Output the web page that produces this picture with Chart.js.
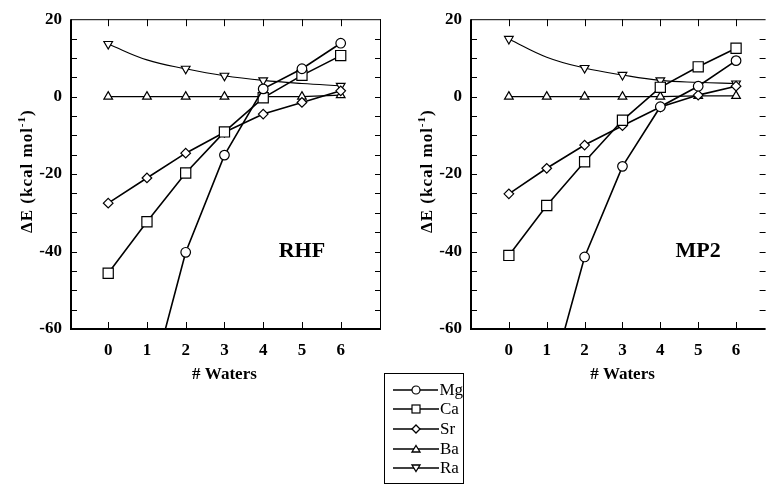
<!DOCTYPE html>
<html>
<head>
<meta charset="utf-8">
<script src="https://cdn.jsdelivr.net/npm/chart.js@4/dist/chart.umd.min.js"></script>
<style>
  html, body { margin:0; padding:0; background:#fff; }
  body { width:774px; height:487px; position:relative; overflow:hidden; }
  .panel { position:absolute; top:0; }
  #legend { position:absolute; left:384px; top:373px; width:80px; height:111px; border:1px solid #000; box-sizing:border-box; background:#fff; padding-top:6px; }
  .row { height:19.6px; display:flex; align-items:center; font-family:"Liberation Serif", serif; font-size:17px; color:#000; }
  .row svg { margin-left:8px; margin-right:1px; }
</style>
</head>
<body>
<div class="panel" style="left:0;width:390px;height:390px"><canvas id="c1" width="390" height="390"></canvas></div>
<div class="panel" style="left:390px;width:384px;height:390px"><canvas id="c2" width="384" height="390"></canvas></div>
<div id="legend"></div>
<script>
// ---- data ----
const waters = [0, 1, 2, 3, 4, 5, 6];
const seriesNames = ['Mg', 'Ca', 'Sr', 'Ba', 'Ra'];
const xTicks = [0, 1, 2, 3, 4, 5, 6];
const yTicks = [20, 0, -20, -40, -60];
const raMarked = [true, false, true, true, true, false, true];

const rhfMg = [null, -78, -40.2, -15.1, 2.0, 7.2, 13.8];
const rhfCa = [-45.6, -32.3, -19.7, -9.1, -0.3, 5.5, 10.6];
const rhfSr = [-27.5, -21.0, -14.6, -9.2, -4.5, -1.5, 1.5];
const rhfBa = [0, 0, 0, 0, 0, 0, 0.4];
const rhfRa = [13.6, 9.5, 7.2, 5.4, 4.2, 3.4, 2.8];

const mp2Mg = [null, -77, -41.4, -18.0, -2.6, 2.7, 9.3];
const mp2Ca = [-41.0, -28.1, -16.8, -6.1, 2.4, 7.7, 12.5];
const mp2Sr = [-25.1, -18.5, -12.5, -7.5, -2.7, 0.4, 2.7];
const mp2Ba = [0, 0, 0, 0, 0, 0.2, 0.2];
const mp2Ra = [14.9, 10.2, 7.4, 5.6, 4.2, 3.7, 3.4];

// ---- styles ----
const FONT = '"Liberation Serif", "Times New Roman", serif';
const pointStyles = ['circle', 'rect', 'rectRot', 'triangle', 'triangle'];
const pointRadii = [4.8, 7.2, 4.8, 5, 5];
const lineWidths = [1.6, 1.6, 1.6, 1.2, 1.1];

const framePlugin = {
  id: 'frame',
  afterDatasetsDraw(chart, args, o) {
    const ctx = chart.ctx, a = chart.chartArea;
    const xs = chart.scales.x, ys = chart.scales.y;
    ctx.save();
    ctx.strokeStyle = '#000';
    ctx.lineWidth = 1;
    ctx.beginPath();
    ctx.moveTo(a.left, a.top + 0.5); ctx.lineTo(a.right, a.top + 0.5);
    if (o.rightLine) { ctx.moveTo(a.right - 0.5, a.top); ctx.lineTo(a.right - 0.5, a.bottom); }
    ctx.stroke();
    ctx.beginPath();
    for (const v of xTicks) {
      const px = Math.round(xs.getPixelForValue(v)) + 0.5;
      ctx.moveTo(px, a.top); ctx.lineTo(px, a.top + 7);
      ctx.moveTo(px, a.bottom); ctx.lineTo(px, a.bottom - 7);
    }
    for (let v = -55; v < 20; v += 5) {
      const py = Math.round(ys.getPixelForValue(v)) + 0.5;
      ctx.moveTo(a.left, py); ctx.lineTo(a.left + 6, py);
      ctx.moveTo(a.right, py); ctx.lineTo(a.right - 6, py);
    }
    ctx.stroke();
    ctx.lineWidth = 2;
    ctx.beginPath();
    ctx.moveTo(a.left, a.top); ctx.lineTo(a.left, a.bottom);
    ctx.lineTo(a.right, a.bottom);
    ctx.stroke();
    // panel label
    ctx.fillStyle = '#000';
    ctx.font = 'bold 22px ' + FONT;
    ctx.textAlign = 'center'; ctx.textBaseline = 'middle';
    ctx.fillText(o.label, xs.getPixelForValue(5), ys.getPixelForValue(-40));
    // x title
    ctx.font = 'bold 17px ' + FONT;
    ctx.fillText('# Waters', xs.getPixelForValue(3), a.bottom + 46);
    // y title with superscript
    ctx.translate(a.left - 45, (a.top + a.bottom) / 2 - 3);
    ctx.rotate(-Math.PI / 2);
    ctx.textAlign = 'left'; ctx.textBaseline = 'alphabetic';
    try { ctx.letterSpacing = '1px'; } catch (e) {}
    const mainFont = 'bold 17px ' + FONT, supFont = 'bold 11px ' + FONT;
    const t1 = '\u0394E (kcal mol', t2 = '-1', t3 = ')';
    ctx.font = mainFont; const w1 = ctx.measureText(t1).width, w3 = ctx.measureText(t3).width;
    ctx.font = supFont; const w2 = ctx.measureText(t2).width;
    const x0 = -(w1 + w2 + w3) / 2;
    ctx.font = mainFont; ctx.fillText(t1, x0, 6);
    ctx.font = supFont; ctx.fillText(t2, x0 + w1, -1);
    ctx.font = mainFont; ctx.fillText(t3, x0 + w1 + w2, 6);
    ctx.restore();
  }
};

function makeChart(id, series, cfg) {
  const datasets = seriesNames.map((name, i) => ({
    label: name,
    data: waters.map((w, j) => ({ x: w, y: series[i][j] })),
    borderColor: '#000',
    borderWidth: lineWidths[i],
    pointStyle: pointStyles[i],
    rotation: i === 4 ? 180 : 0,
    pointRadius: i === 4 ? raMarked.map(m => m ? pointRadii[i] : 0) : pointRadii[i],
    pointBackgroundColor: '#fff',
    pointBorderColor: '#000',
    pointBorderWidth: 1.2,
    tension: i === 4 ? 0.4 : 0,
    spanGaps: false,
    fill: false
  }));
  return new Chart(document.getElementById(id), {
    type: 'line',
    data: { datasets },
    plugins: [framePlugin],
    options: {
      responsive: false,
      animation: false,
      events: [],
      layout: { padding: { top: 18, right: cfg.padRight, left: 0, bottom: 0 } },
      plugins: {
        legend: { display: false },
        tooltip: { enabled: false },
        frame: { label: cfg.label, rightLine: cfg.rightLine }
      },
      scales: {
        x: {
          type: 'linear', min: cfg.xmin, max: cfg.xmax,
          grid: { display: false, drawTicks: false },
          border: { display: false },
          afterBuildTicks: s => { s.ticks = xTicks.map(v => ({ value: v })); },
          afterFit: s => { s.height = 61; },
          ticks: { color: '#000', padding: 11, font: { family: FONT, size: 17, weight: 'bold' }, autoSkip: false, maxRotation: 0 }
        },
        y: {
          type: 'linear', min: -60, max: 20,
          grid: { display: false, drawTicks: false },
          border: { display: false },
          afterBuildTicks: s => { s.ticks = yTicks.map(v => ({ value: v })); },
          afterFit: s => { s.width = cfg.yWidth; },
          ticks: { color: '#000', padding: 9, font: { family: FONT, size: 17, weight: 'bold' } }
        }
      }
    }
  });
}

makeChart('c1', [rhfMg, rhfCa, rhfSr, rhfBa, rhfRa], { label: 'RHF', xmin: -0.96, xmax: 7.04, padRight: 9, yWidth: 71, rightLine: true });
makeChart('c2', [mp2Mg, mp2Ca, mp2Sr, mp2Ba, mp2Ra], { label: 'MP2', xmin: -1, xmax: 6.78, padRight: 2, yWidth: 81, rightLine: false });

// ---- legend ----
const markerSvg = [
  '<circle cx="23" cy="6" r="4" fill="#fff" stroke="#000" stroke-width="1.2"/>',
  '<rect x="19" y="2" width="8" height="8" fill="#fff" stroke="#000" stroke-width="1.2"/>',
  '<polygon points="23,2 27,6 23,10 19,6" fill="#fff" stroke="#000" stroke-width="1.3"/>',
  '<polygon points="23,2.5 27,9 19,9" fill="#fff" stroke="#000" stroke-width="1.3"/>',
  '<polygon points="23,9.5 27,3 19,3" fill="#fff" stroke="#000" stroke-width="1.3"/>'
];
const lg = document.getElementById('legend');
seriesNames.forEach((n, i) => {
  const row = document.createElement('div');
  row.className = 'row';
  row.innerHTML = '<svg width="46" height="12"><line x1="0" y1="6" x2="46" y2="6" stroke="#000" stroke-width="1.5"/>' + markerSvg[i] + '</svg><span>' + n + '</span>';
  lg.appendChild(row);
});
</script>
</body>
</html>
